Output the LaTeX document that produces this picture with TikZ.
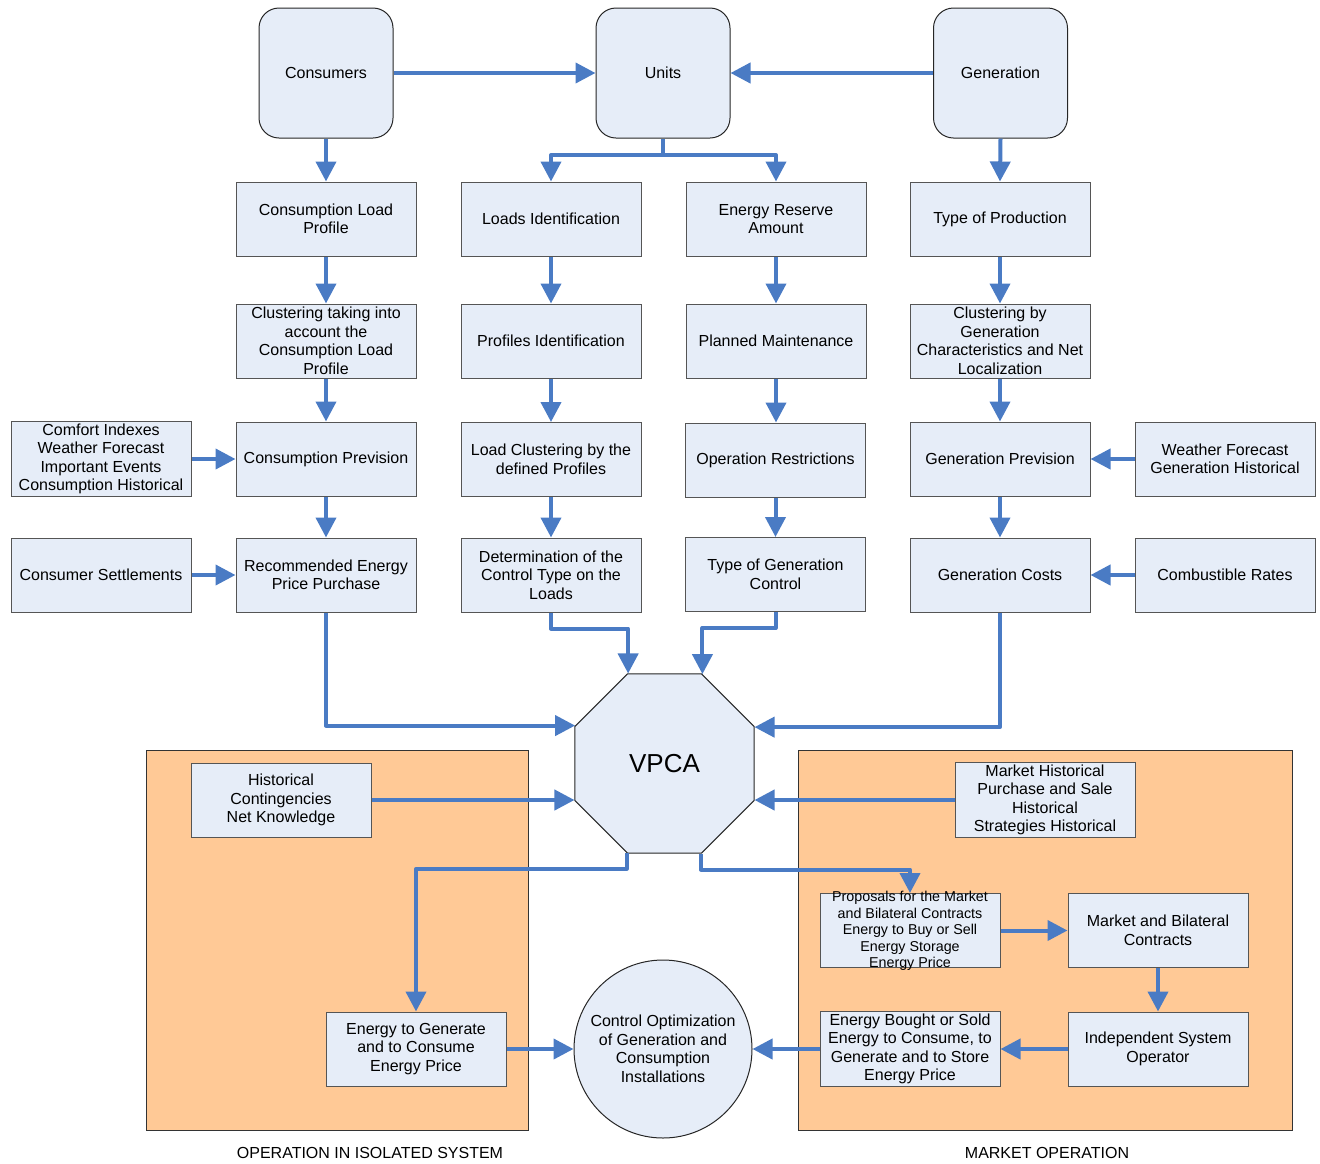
\documentclass[tikz,border=0pt]{standalone}
\usepackage{fontspec}
\setmainfont{Liberation Sans}
\usetikzlibrary{arrows.meta,shapes.geometric}
\definecolor{boxfill}{RGB}{230,237,248}
\definecolor{arrblue}{RGB}{74,123,196}
\definecolor{orangebg}{RGB}{255,201,150}
\definecolor{boxline}{RGB}{85,85,85}
\tikzset{
  box/.style={draw=boxline, line width=1pt, fill=boxfill, minimum width=180pt, minimum height=74pt,
    align=center, inner sep=2pt, font=\fontsize{16}{18.5}\selectfont},
  topbox/.style={draw=black!85, line width=1pt, fill=boxfill, minimum width=134pt, minimum height=130pt,
    rounded corners=20pt, align=center, font=\fontsize{16}{18.5}\selectfont},
  arr/.style={draw=arrblue, line width=4pt, line join=round, -{Triangle[length=20pt,width=20pt]}},
  region/.style={draw=black!80, line width=1pt, fill=orangebg},
  caption/.style={font=\fontsize{16}{18.5}\selectfont}
}
\begin{document}
\begin{tikzpicture}[x=1pt,y=-1pt]
\useasboundingbox (0,0) rectangle (1320,1163);
% regions
\path[region] (146,750) rectangle (528,1130);
\path[region] (798,750) rectangle (1292,1130);
\node[caption] (lblA) at (370,1153) {OPERATION IN ISOLATED SYSTEM};
\node[caption] (lblB) at (1047,1153) {MARKET OPERATION};
% top
\node[topbox] (cons) at (326,73) {Consumers};
\node[topbox] (units) at (663,73) {Units};
\node[topbox] (gen) at (1000.5,73) {Generation};
% row 1
\node[box] (clp) at (326,219) {Consumption Load\\Profile};
\node[box] (lid) at (551,219) {Loads Identification};
\node[box] (era) at (776,219) {Energy Reserve\\Amount};
\node[box] (tp) at (1000,219) {Type of Production};
% row 2
\node[box] (ctc) at (326,341) {Clustering taking into\\account the\\Consumption Load\\Profile};
\node[box] (pid) at (551,341) {Profiles Identification};
\node[box] (pm) at (776,341) {Planned Maintenance};
\node[box] (cbg) at (1000,341) {Clustering by\\Generation\\Characteristics and Net\\Localization};
% row 3
\node[box] (comf) at (101,459) {Comfort Indexes\\Weather Forecast\\Important Events\\Consumption Historical};
\node[box] (cp) at (326,459) {Consumption Prevision};
\node[box] (lc) at (551,459.5) {Load Clustering by the\\defined Profiles};
\node[box] (orr) at (775.5,460) {Operation Restrictions};
\node[box] (gp) at (1000,459) {Generation Prevision};
\node[box] (wf) at (1225,459) {Weather Forecast\\Generation Historical};
% row 4
\node[box] (cs) at (101,575) {Consumer Settlements};
\node[box] (rep) at (326,575) {Recommended Energy\\Price Purchase};
\node[box] (dct) at (551,575) {Determination of the\\Control Type on the\\Loads};
\node[box] (tgc) at (775.5,574.5) {Type of Generation\\Control};
\node[box] (gc) at (1000,575) {Generation Costs};
\node[box] (cr) at (1225,575) {Combustible Rates};
% VPCA
\node[regular polygon, regular polygon sides=8, draw=black!85, line width=1pt, fill=boxfill,
  minimum size=193.8pt, inner sep=0pt, font=\fontsize{26}{30}\selectfont] (vpca) at (664.5,763.5) {VPCA};
% lower
\node[box] (hc) at (281,800) {Historical\\Contingencies\\Net Knowledge};
\node[box] (mh) at (1045,800) {Market Historical\\Purchase and Sale\\Historical\\Strategies Historical};
\node[box, font=\fontsize{14.3}{16.5}\selectfont] (prop) at (910,930.5) {\smash{\raisebox{-4.5pt}{\begin{tabular}{@{}c@{}}Proposals for the Market\\and Bilateral Contracts\\Energy to Buy or Sell\\Energy Storage\\Energy Price\end{tabular}}}};
\node[box] (mbc) at (1158,930.5) {Market and Bilateral\\Contracts};
\node[box] (iso) at (1158,1049) {Independent System\\Operator};
\node[box] (ebs) at (910,1049) {Energy Bought or Sold\\Energy to Consume, to\\Generate and to Store\\Energy Price};
\node[box] (etg) at (416,1049) {Energy to Generate\\and to Consume\\Energy Price};
\node[circle, draw=black!85, line width=1pt, fill=boxfill, minimum size=178pt, inner sep=0pt,
  align=center, font=\fontsize{16}{18.5}\selectfont] (coc) at (663,1049) {Control Optimization\\of Generation and\\Consumption\\Installations};
% connectors top
\draw[arr] (cons.east) -- (units.west);
\draw[arr] (gen.west) -- (units.east);
\draw[arr] (cons.south) -- (clp.north);
\draw[arr] (gen.south) -- (tp.north);
\coordinate (ub) at (663,155);
\draw[arr] (units.south) -- (ub) -| (lid.north);
\draw[arr] (units.south) -- (ub) -| (era.north);
% columns
\draw[arr] (clp.south) -- (ctc.north);
\draw[arr] (ctc.south) -- (cp.north);
\draw[arr] (cp.south) -- (rep.north);
\draw[arr] (lid.south) -- (pid.north);
\draw[arr] (pid.south) -- (lc.north);
\draw[arr] (lc.south) -- (dct.north);
\draw[arr] (era.south) -- (pm.north);
\draw[arr] (pm.south) -- (pm.south |- orr.north);
\draw[arr] (orr.south) -- (tgc.north);
\draw[arr] (tp.south) -- (cbg.north);
\draw[arr] (cbg.south) -- (gp.north);
\draw[arr] (gp.south) -- (gc.north);
% side inputs
\draw[arr] (comf.east) -- (cp.west);
\draw[arr] (cs.east) -- (rep.west);
\draw[arr] (wf.west) -- (gp.east);
\draw[arr] (cr.west) -- (gc.east);
% into VPCA
\draw[arr] (rep.south) |- (vpca.157.5);
\draw[arr] (gc.south) |- (vpca.22.5);
\draw[arr] (dct.south) -- ++(0,16) -| (vpca.112.5);
\draw[arr] (tgc.south) -- ++(0,16) -| (vpca.67.5);
\draw[arr] (hc.east) -- (hc.east -| vpca.202.5);
\draw[arr] (mh.west) -- (mh.west -| vpca.-22.5);
% out of VPCA
\draw[arr] (vpca.247.5) -- ++(0,16) -| (etg.north);
\draw[arr] (vpca.292.5) -- ++(0,16) -| (prop.north);
\draw[arr] (prop.east) -- (mbc.west);
\draw[arr] (mbc.south) -- (iso.north);
\draw[arr] (iso.west) -- (ebs.east);
\draw[arr] (ebs.west) -- (coc.east);
\draw[arr] (etg.east) -- (coc.west);
\end{tikzpicture}
\end{document}
